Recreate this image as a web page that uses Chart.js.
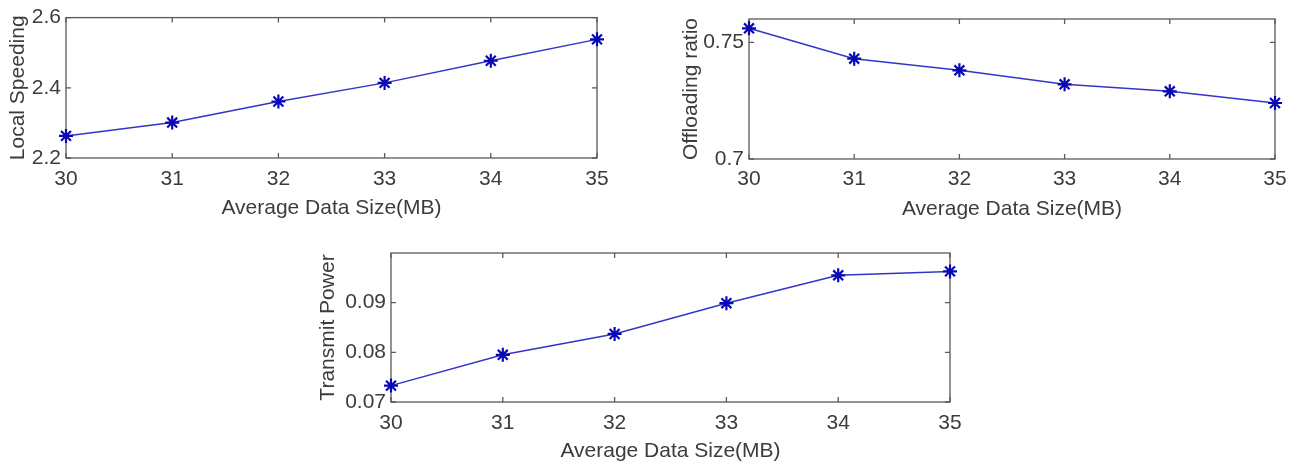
<!DOCTYPE html>
<html>
<head>
<meta charset="utf-8">
<script src="https://cdn.jsdelivr.net/npm/chart.js@4.4.1/dist/chart.umd.min.js"></script>
<style>
  body { margin: 0; background: #fff; width: 1296px; height: 464px; position: relative; overflow: hidden; }
  .box { position: absolute; }
</style>
</head>
<body>
<div class="box" style="left:0px;top:0px;width:640px;height:225px;"><canvas id="c1"></canvas></div>
<div class="box" style="left:650px;top:0px;width:646px;height:225px;"><canvas id="c2"></canvas></div>
<div class="box" style="left:300px;top:235px;width:700px;height:229px;"><canvas id="c3"></canvas></div>
<script>
// data
var dataSize = [30, 31, 32, 33, 34, 35];
var localSpeeding = [2.263, 2.301, 2.361, 2.414, 2.477, 2.538];
var offloadingRatio = [0.756, 0.743, 0.738, 0.732, 0.729, 0.724];
var transmitPower = [0.0733, 0.0795, 0.0837, 0.0899, 0.0955, 0.0963];

var xTicks = [30, 31, 32, 33, 34, 35];
var yTicks1 = [2.2, 2.4, 2.6];
var yTicks2 = [0.7, 0.75];
var yTicks3 = [0.07, 0.08, 0.09];

var textColor = '#3c3c3c';
var axisColor = '#5a5a5a';
var fontFam = '"Liberation Sans", Arial, sans-serif';
var fontSize = 21;

// MATLAB style frame with inward ticks
var framePlugin = {
  id: 'frame',
  beforeDatasetsDraw: function(chart) {
    var ctx = chart.ctx;
    var a = chart.chartArea;
    var xs = chart.scales.x, ys = chart.scales.y;
    var len = 5;
    ctx.save();
    ctx.strokeStyle = axisColor;
    ctx.lineWidth = 1.3;
    ctx.strokeRect(a.left, a.top, a.right - a.left, a.bottom - a.top);
    ctx.beginPath();
    xs.ticks.forEach(function(t) {
      var px = xs.getPixelForValue(t.value);
      ctx.moveTo(px, a.bottom); ctx.lineTo(px, a.bottom - len);
      ctx.moveTo(px, a.top); ctx.lineTo(px, a.top + len);
    });
    ys.ticks.forEach(function(t) {
      var py = ys.getPixelForValue(t.value);
      ctx.moveTo(a.left, py); ctx.lineTo(a.left + len, py);
      ctx.moveTo(a.right, py); ctx.lineTo(a.right - len, py);
    });
    ctx.stroke();
    ctx.restore();
  }
};

function makeChart(id, values, cfg) {
  var pts = [];
  for (var i in dataSize) {
    pts.push({x: dataSize[i], y: values[i]});
  }
  return new Chart(document.getElementById(id), {
    type: 'line',
    data: {
      datasets: [{
        data: pts,
        borderColor: '#3434c8',
        borderWidth: 1.5,
        pointStyle: 'star',
        pointRadius: 7,
        pointBorderWidth: 2.2,
        pointBorderColor: '#0808b4',
        pointBackgroundColor: '#0808b4',
        tension: 0,
        clip: false
      }]
    },
    options: {
      responsive: true,
      maintainAspectRatio: false,
      animation: false,
      events: [],
      layout: { padding: { left: 0, top: cfg.top, right: cfg.right, bottom: 0 } },
      plugins: { legend: { display: false }, tooltip: { enabled: false } },
      scales: {
        x: {
          type: 'linear',
          min: 30, max: 35,
          afterBuildTicks: function(s) { s.ticks = xTicks.map(function(v) { return {value: v}; }); },
          afterFit: function(s) { s.height = cfg.xh; },
          grid: { display: false, drawTicks: false },
          border: { display: false },
          ticks: { color: textColor, padding: cfg.xtp, font: { family: fontFam, size: fontSize }, maxRotation: 0 },
          title: { display: true, text: 'Average Data Size(MB)', color: textColor,
                   font: { family: fontFam, size: fontSize }, padding: { top: 0, bottom: cfg.xtb } }
        },
        y: {
          min: cfg.min, max: cfg.max,
          afterBuildTicks: function(s) { s.ticks = cfg.ticks.map(function(v) { return {value: v}; }); },
          afterFit: function(s) { s.width = cfg.yw; },
          grid: { display: false, drawTicks: false },
          border: { display: false },
          ticks: { color: textColor, padding: 5, font: { family: fontFam, size: fontSize },
                   callback: function(v) { return String(v); } },
          title: { display: true, text: cfg.title, color: textColor,
                   font: { family: fontFam, size: fontSize }, padding: { top: cfg.ytp, bottom: 0 } }
        }
      }
    },
    plugins: [framePlugin]
  });
}

makeChart('c1', localSpeeding, { title: 'Local Speeding', min: 2.2, max: 2.6, ticks: yTicks1,
  top: 15, right: 43, xh: 67, yw: 66, xtp: 9, xtb: 4, ytp: 6 });
makeChart('c2', offloadingRatio, { title: 'Offloading ratio', min: 0.7, max: 0.76, ticks: yTicks2,
  top: 19, right: 21, xh: 66, yw: 99, xtp: 8, xtb: 3, ytp: 29 });
makeChart('c3', transmitPower, { title: 'Transmit Power', min: 0.07, max: 0.1, ticks: yTicks3,
  top: 18, right: 50, xh: 62, yw: 91, xtp: 9, xtb: 0, ytp: 16 });
</script>
</body>
</html>
